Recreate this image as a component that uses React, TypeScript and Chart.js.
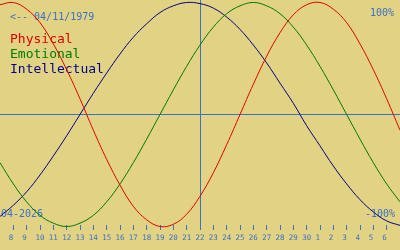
import React, { useEffect, useRef } from "react";
import { Chart, registerables } from "chart.js";

Chart.register(...registerables);

// Days shown on the axis (edge days are not labelled)
const dayLabels = [
  "7", "8", "9", "10", "11", "12", "13", "14", "15", "16", "17", "18", "19", "20", "21",
  "22", "23", "24", "25", "26", "27", "28", "29", "30", "1", "2", "3", "4", "5", "6", "7",
];
const todayLabelIndex = 15;

const physical = [
  0.98, 1.0, 0.94, 0.82, 0.63, 0.4, 0.14, -0.14, -0.4, -0.63, -0.82, -0.94, -1.0, -0.98, -0.89,
  -0.73, -0.52, -0.27, 0.0, 0.27, 0.52, 0.73, 0.89, 0.98, 1.0, 0.94, 0.82, 0.63, 0.4, 0.14, -0.14,
];
const emotional = [
  -0.43, -0.62, -0.78, -0.9, -0.97, -1.0, -0.97, -0.9, -0.78, -0.62, -0.43, -0.22, 0.0, 0.22, 0.43,
  0.62, 0.78, 0.9, 0.97, 1.0, 0.97, 0.9, 0.78, 0.62, 0.43, 0.22, 0.0, -0.22, -0.43, -0.62, -0.78,
];
const intellectual = [
  -0.91, -0.81, -0.69, -0.54, -0.37, -0.19, 0.0, 0.19, 0.37, 0.54, 0.69, 0.81, 0.91, 0.97, 1.0,
  0.99, 0.95, 0.87, 0.76, 0.62, 0.46, 0.28, 0.1, -0.1, -0.28, -0.46, -0.62, -0.76, -0.87, -0.95, -0.99,
];

const seriesNames = ["Physical", "Emotional", "Intellectual"];
const birthText = "<-- 04/11/1979";
const monthText = "04-2026";
const topText = "100%";
const bottomText = "-100%";

const BG = "#e1d284";
const AXIS_BLUE = "#3a72c4";
const RED = "#e00000";
const GREEN = "#007a00";
const NAVY = "#000088";
const MONO = '"DejaVu Sans Mono", monospace';

const textPlugin = {
  id: "bioText",
  beforeDatasetsDraw(chart: any) {
    const ctx = chart.ctx as CanvasRenderingContext2D;
    ctx.save();
    ctx.textBaseline = "alphabetic";
    ctx.font = `10px ${MONO}`;
    ctx.fillStyle = AXIS_BLUE;
    ctx.textAlign = "left";
    ctx.fillText(birthText, 10, 20);
    ctx.fillText(monthText, 1, 217);
    ctx.textAlign = "right";
    ctx.fillText(topText, 394, 16);
    ctx.fillText(bottomText, 395, 217);
    ctx.textAlign = "left";
    ctx.font = `13px ${MONO}`;
    const cols = [RED, GREEN, NAVY];
    seriesNames.forEach((n, i) => {
      ctx.fillStyle = cols[i];
      ctx.fillText(n, 10, 43 + i * 15);
    });
    ctx.restore();
  },
};

export default function App() {
  const ref = useRef<HTMLCanvasElement | null>(null);
  useEffect(() => {
    if (!ref.current) return;
    const mk = (label: string, data: number[], color: string) => ({
      label,
      data,
      borderColor: color,
      borderWidth: 1,
      pointRadius: 0,
      tension: 0.4,
      fill: false,
      clip: false as any,
    });
    const chart = new Chart(ref.current, {
      type: "line",
      data: {
        labels: dayLabels,
        datasets: [
          mk(seriesNames[0], physical, RED),
          mk(seriesNames[1], emotional, GREEN),
          mk(seriesNames[2], intellectual, NAVY),
        ],
      },
      plugins: [textPlugin],
      options: {
        animation: false,
        responsive: true,
        maintainAspectRatio: false,
        layout: { padding: 0, autoPadding: false },
        plugins: { legend: { display: false }, tooltip: { enabled: false }, title: { display: false } },
        scales: {
          x: {
            type: "category",
            offset: false,
            afterFit: (s: any) => {
              s.height = 25;
              s.paddingLeft = 0;
              s.paddingRight = 0;
            },
            border: { display: false },
            grid: {
              drawOnChartArea: true,
              drawTicks: true,
              tickLength: 5,
              color: (c: any) => (c.index === todayLabelIndex ? AXIS_BLUE : "rgba(0,0,0,0)"),
              tickColor: (c: any) =>
                c.index === 0 || c.index === dayLabels.length - 1 ? "rgba(0,0,0,0)" : AXIS_BLUE,
              lineWidth: 1,
            },
            ticks: {
              autoSkip: false,
              maxRotation: 0,
              minRotation: 0,
              padding: 4,
              color: AXIS_BLUE,
              font: { family: "DejaVu Sans Mono", size: 7.5 },
              callback: (_v: any, i: number) => {
                if (i === 0 || i === dayLabels.length - 1) return "";
                const l = dayLabels[i];
                return l.length === 1 ? l + " " : l;
              },
            },
          },
          y: {
            min: -0.9866,
            max: 1.0223,
            afterFit: (s: any) => {
              s.width = 0;
            },
            afterBuildTicks: (s: any) => {
              s.ticks = [{ value: 0 }];
            },
            border: { display: false },
            grid: { drawTicks: false, color: AXIS_BLUE, lineWidth: 1 },
            ticks: { display: false, padding: 0 },
          },
        },
      },
    });
    return () => chart.destroy();
  }, []);
  return (
    <div style={{ position: "fixed", left: 0, top: 0, width: 400, height: 250, background: BG }}>
      <canvas ref={ref} />
    </div>
  );
}
